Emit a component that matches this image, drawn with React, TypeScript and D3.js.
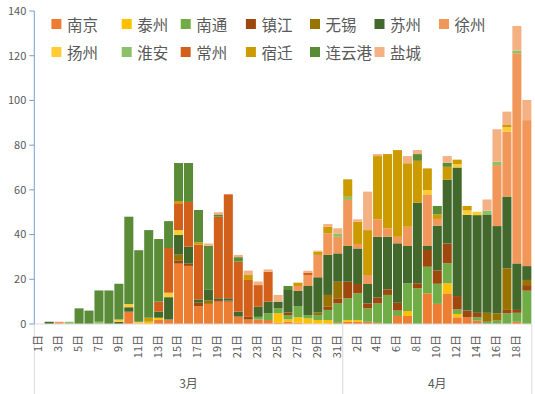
import * as d3 from "d3";

const cities = ["南京", "泰州", "南通", "镇江", "无锡", "苏州", "徐州", "扬州", "淮安", "常州", "宿迁", "连云港", "盐城"];
const palette = ["#ED7D31", "#FFC000", "#70AD47", "#9E480E", "#997300", "#43682B", "#F1975A", "#FFCD33", "#8CC168", "#D2601A", "#CC9B00", "#5A8C38", "#F4B183"];

const months = ["3月", "4月"];
const marchDays = [1, 2, 3, 4, 5, 6, 7, 8, 9, 10, 11, 12, 13, 14, 15, 16, 17, 18, 19, 20, 21, 22, 23, 24, 25, 26, 27, 28, 29, 30, 31];
const aprilDays = [1, 2, 3, 4, 5, 6, 7, 8, 9, 10, 11, 12, 13, 14, 15, 16, 17, 18, 19];
const yTicks = [0, 20, 40, 60, 80, 100, 120, 140];

// each series: 3月1日–31日, then 4月1日–19日
const nanjing = [
  0, 0, 0, 0, 0, 0, 0, 0, 0, 5.5, 0, 0, 1.8, 2, 27, 26, 8, 9, 10, 10, 3.3, 2, 2, 1.8, 0.5, 1, 0.6, 0, 0, 0, 0.5,
  1, 1, 1, 0.5, 0, 3.6, 3.6, 0, 13.7, 9, 13.7, 3, 3, 1.5, 0, 0, 0, 1, 0,
];
const taizhou = [
  0, 0, 0, 0, 0, 0, 0, 0, 0, 0, 0, 1, 1, 0, 0, 0, 0, 0, 0, 0, 0, 0, 0, 0, 4.3, 1.1, 2.4, 2.5, 1.8, 1.8, 0,
  0.8, 0.8, 0, 0, 0, 0, 2.2, 0, 0, 0, 4.5, 1.5, 0, 0, 0, 0, 0, 0, 0,
];
const nantong = [
  0, 0, 0, 0, 0, 0, 0, 0, 0, 0, 0, 0, 0, 0, 0, 0, 0, 0, 0, 0, 0, 0, 1.2, 3, 2.2, 1.9, 5, 1.5, 2.2, 4.5, 8.7,
  9.7, 11.9, 6, 8.7, 13, 2.4, 12.4, 16, 11.9, 9, 8.9, 2, 0, 1.5, 1, 1.5, 4.8, 4, 14.9,
];
const zhenjiang = [
  0, 0, 0, 0, 0, 0, 0, 0, 0, 0, 0, 0, 0, 0, 1.5, 1, 1.5, 0, 0.7, 0.5, 0, 1.2, 0, 0, 0, 1.1, 0, 0, 0, 1.4, 2.3,
  7.4, 4.2, 2.2, 2.7, 2.5, 3.5, 0, 2.2, 7.5, 6, 8.9, 6, 3, 2, 0, 0, 1.5, 1.3, 2.5,
];
const wuxi = [
  0, 0, 0, 0, 0, 0, 0, 0, 0, 0, 0, 0, 0, 0, 2.5, 0, 0, 1.5, 0, 0, 0, 0, 0, 0, 0, 0, 0, 0, 1.1, 5.3, 7.4,
  0, 0, 0, 0, 0, 0, 0, 0, 0, 0, 0, 0, 0, 0, 4, 3.3, 18.6, 0, 2.3,
];
const suzhou = [
  0, 1, 0, 0, 0, 0, 0, 0, 1, 2, 0, 0, 2.7, 10, 8.8, 7.6, 1.5, 5, 0.8, 1, 2.2, 0, 4.5, 5.2, 3, 10.1, 6.8, 13, 15.8, 17.9, 12.7,
  16, 15.9, 8.7, 27.1, 23.5, 26.6, 16.7, 36.1, 1.8, 20, 28.6, 57.5, 42.8, 43.7, 44, 39, 32.1, 20.8, 6.2,
];
const xuzhou = [
  0, 0, 1, 0, 0, 0, 0, 0, 0, 0, 0, 0, 0, 0, 0, 0, 0, 0, 0, 0, 0, 0, 0, 0, 0, 0, 2.2, 4.9, 10, 9.7, 7.4,
  20.6, 2, 4, 7.8, 3.8, 2.9, 8.6, 0, 22.8, 3, 0, 0, 0, 0, 0, 27.3, 29, 94, 65.3,
];
const yangzhou = [
  0, 0, 0, 0, 0, 0, 0, 0, 1, 1.4, 1, 0, 0, 2, 2.2, 0, 0, 0, 0, 0, 0, 0, 0, 0, 0, 0, 0, 0, 0, 0, 0,
  0, 0, 0, 0, 0, 0, 0, 0, 2.2, 0, 0, 1.5, 2, 1.5, 0, 0, 2, 0, 0,
];
const huaian = [
  0, 0, 0, 1, 0, 0, 1, 0, 0, 0, 0, 0, 0, 0, 0, 0, 0, 0, 0, 0, 0, 0, 0, 0, 0, 0, 0, 0, 0, 0, 1.5,
  1.4, 0, 0, 0, 0, 0, 0, 0, 0, 0, 0, 0, 0, 0, 1.7, 1.5, 0, 1.2, 0,
];
const changzhou = [
  0, 0, 0, 0, 0, 0, 0, 0, 0, 0, 0, 0, 4.5, 20, 12, 20, 24.5, 0, 36.5, 46.5, 22.4, 16.5, 9.7, 13.4, 0, 0, 0, 1.1, 0, 0, 0,
  0, 0, 0, 0, 0, 0, 0, 0, 0, 0, 0, 0, 0, 0, 0, 0, 0, 0, 0,
];
const suqian = [
  0, 0, 0, 0, 0, 0, 0, 0, 0, 0, 0, 1.8, 0, 0, 1, 0, 1, 0, 0, 0, 0, 2.2, 0, 0, 0, 0, 1.5, 0, 1.4, 2.9, 0,
  7.8, 10, 20.1, 28.3, 33.2, 38.8, 28.4, 18.7, 9.7, 2, 5.7, 2, 2, 0, 0, 0, 1, 0, 0,
];
const lianyungang = [
  0, 0, 0, 0, 7, 6, 14, 15, 16, 39.1, 32, 39.2, 28, 12, 17, 17.4, 14.5, 19.5, 1, 0, 2, 0, 0, 0, 0, 1.8, 0, 0, 0, 0, 0,
  0, 0, 0, 0, 0, 0, 0, 3, 0, 3.8, 1.8, 0, 0, 0, 0, 0, 0, 0, 0,
];
const yancheng = [
  0, 0, 0, 0, 0, 0, 0, 0, 0, 0, 0, 0, 0, 0, 0, 0, 0, 1, 1, 0, 1, 2, 1.6, 1, 3, 0, 0, 0.8, 0.5, 1.2, 2.3,
  0, 1, 17.2, 0.9, 0, 0, 3.2, 1.8, 0, 0, 3, 0, 0, 0, 5, 14.5, 6, 11, 9,
];

const seriesValues = [nanjing, taizhou, nantong, zhenjiang, wuxi, suzhou, xuzhou, yangzhou, huaian, changzhou, suqian, lianyungang, yancheng];
const dayLabels = [...marchDays, ...aprilDays].map((d) => `${d}日`);
const monthLengths = [marchDays.length, aprilDays.length];

const W = 535;
const H = 394;
const left = 34.3;
const right = 531.8;
const base = 324;
const top = 11;
const legendCols = [51.4, 121.7, 180.7, 245.9, 310, 374.5, 439];
const legendRows = [24, 52];
const grey = "#595959";
const cjk = "'Noto Sans CJK SC', 'Noto Sans', sans-serif";

export default function App() {
  const idx = d3.range(dayLabels.length);
  const x = d3.scaleBand<number>().domain(idx).range([left, right]).paddingInner(0.09).paddingOuter(0.045);
  const y = d3.scaleLinear().domain([0, 140]).range([base, top]);

  const rows = idx.map((i) => Object.fromEntries(cities.map((c, k) => [c, seriesValues[k][i]])));
  const stacked = d3.stack<any>().keys(cities)(rows);

  const step = x.step();
  const bounds = [0, monthLengths[0], monthLengths[0] + monthLengths[1]].map((n) => left + n * step);

  return (
    <svg width={W} height={H} style={{ position: "absolute", left: 0, top: 0, background: "#fff" }}>
      {stacked.map((layer, k) => (
        <g key={cities[k]} fill={palette[k]}>
          {layer.map((d, i) =>
            d[1] - d[0] > 0 ? (
              <rect key={i} x={x(i)} width={x.bandwidth()} y={y(d[1])} height={y(d[0]) - y(d[1])} />
            ) : null
          )}
        </g>
      ))}

      <line x1={left} x2={right} y1={base} y2={base} stroke="#D9D9D9" />
      {bounds.map((bx, i) => (
        <line key={i} x1={bx} x2={bx} y1={base} y2={H} stroke="#D9D9D9" />
      ))}

      <line x1={left} x2={left} y1={top} y2={base} stroke="#7A9CCB" />
      {yTicks.map((t) => (
        <g key={t}>
          <line x1={left - 5} x2={left} y1={y(t)} y2={y(t)} stroke="#7A9CCB" />
          <text x={left - 8} y={y(t)} dy="0.35em" textAnchor="end" fontSize={11} fill={grey} fontFamily={cjk}>
            {t}
          </text>
        </g>
      ))}

      {idx
        .filter((i) => i % 2 === 0)
        .map((i) => (
          <text
            key={i}
            transform={`translate(${x(i)! + x.bandwidth() / 2 - 1},335) rotate(-90)`}
            dy="0.35em"
            textAnchor="end"
            fontSize={11}
            fill={grey}
            fontFamily={cjk}
          >
            {dayLabels[i]}
          </text>
        ))}

      {months.map((m, i) => (
        <text
          key={m}
          x={(bounds[i] + bounds[i + 1]) / 2}
          y={382}
          dominantBaseline="central"
          textAnchor="middle"
          fontSize={12}
          fill={grey}
          fontFamily={cjk}
        >
          {m}
        </text>
      ))}

      {cities.map((c, k) => {
        const lx = legendCols[k % 7];
        const ly = legendRows[Math.floor(k / 7)];
        return (
          <g key={c}>
            <rect x={lx} y={ly - 5} width={10} height={10} fill={palette[k]} />
            <text x={lx + 15.5} y={ly} dominantBaseline="central" fontSize={15.5} fill={grey} fontFamily={cjk}>
              {c}
            </text>
          </g>
        );
      })}
    </svg>
  );
}
